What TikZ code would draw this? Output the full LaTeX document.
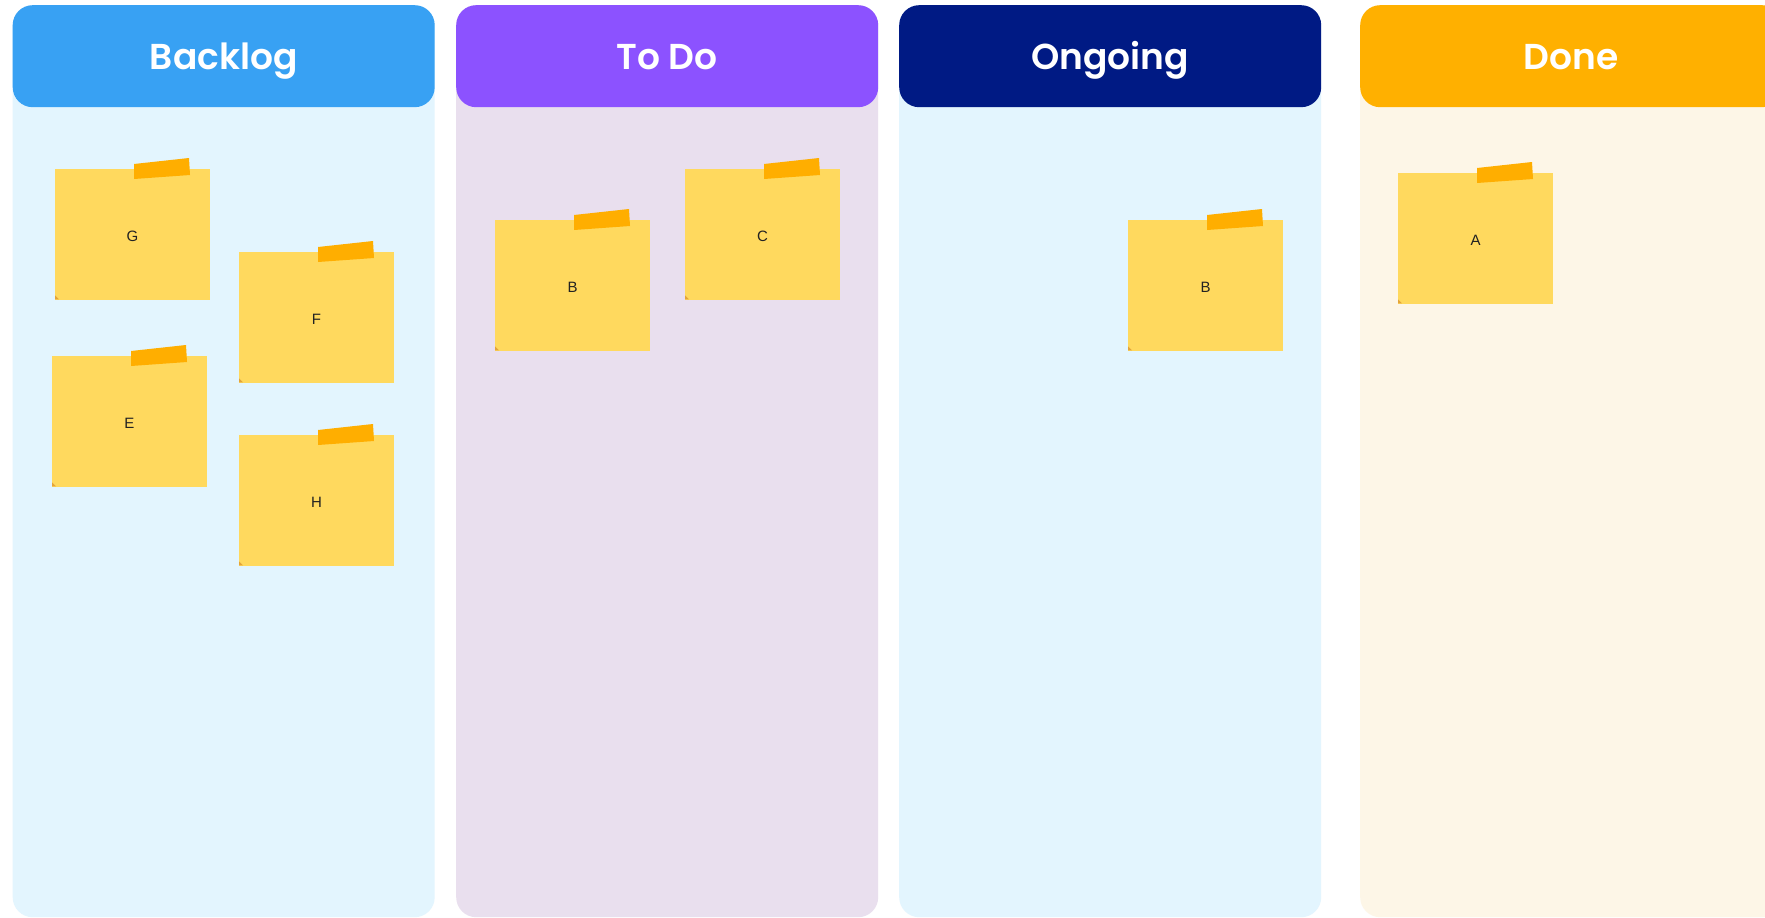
\documentclass[tikz,border=0pt]{standalone}
\usepackage{fontspec}
\setsansfont{Poppins}[BoldFont={Poppins SemiBold}]
\newfontfamily\notefont{Liberation Sans}
\definecolor{hBacklog}{HTML}{38A1F3}
\definecolor{hTodo}{HTML}{8C52FF}
\definecolor{hOngoing}{HTML}{001A84}
\definecolor{hDone}{HTML}{FFB000}
\definecolor{bBlue}{HTML}{E3F5FE}
\definecolor{bLav}{HTML}{E9DFEE}
\definecolor{bCream}{HTML}{FDF6E7}
\definecolor{noteY}{HTML}{FFD95E}
\definecolor{tapeO}{HTML}{FFAE00}
\definecolor{curl}{HTML}{E3A43A}
\definecolor{ink}{HTML}{222222}
\tikzset{
  colbody/.style={rounded corners=20pt, inner sep=0pt, minimum width=422pt, minimum height=912pt, anchor=north west},
  colhead/.style={rounded corners=20pt, inner sep=0pt, minimum width=422pt, minimum height=102pt, anchor=north west},
  headtext/.style={text=white, font=\sffamily\bfseries\fontsize{36}{40}\selectfont, anchor=base, inner sep=0pt},
  note/.style={fill=noteY, minimum width=155pt, minimum height=131pt, inner sep=0pt, anchor=north west, text=ink, font=\notefont\fontsize{15}{18}\selectfont},
  tape/.style={fill=tapeO},
}
\newcommand{\stickynote}[4]{%
  \node[note] (#1) at (#2,#3) {};
  \node[text=ink, font=\notefont\fontsize{15}{18}\selectfont, anchor=base, inner sep=0pt] (#1t) at ([shift={(77.5,72)}]#1.north west) {#4};
  \fill[tape] ([shift={(79,-5)}]#1.north west) -- ([shift={(134,-11)}]#1.north west) -- ([shift={(135,6)}]#1.north west) -- ([shift={(79,10)}]#1.north west) -- cycle;
  \fill[curl] ([shift={(0,-1)}]#1.south west) -- ([shift={(4,-1)}]#1.south west) -- ([shift={(0,-5)}]#1.south west) -- cycle;
}
\begin{document}
\begin{tikzpicture}[x=1pt,y=-1pt]
\useasboundingbox (0,0) rectangle (1765,918);
\clip (0,0) rectangle (1765,918);
\fill[white] (0,0) rectangle (1765,918);
% columns
\node[colbody, fill=bBlue] (backlog) at (12.5,5) {};
\node[colbody, fill=bLav] (todo) at (456,5) {};
\node[colbody, fill=bBlue] (ongoing) at (899,5) {};
\node[colbody, fill=bCream] (done) at (1360,5) {};
\node[colhead, fill=hBacklog] (hbacklog) at (12.5,5) {};
\node[colhead, fill=hTodo] (htodo) at (456,5) {};
\node[colhead, fill=hOngoing] (hongoing) at (899,5) {};
\node[colhead, fill=hDone] (hdone) at (1360,5) {};
\node[headtext] (tbacklog) at ([yshift=-13]hbacklog.center) {Backlog};
\node[headtext] (ttodo) at ([yshift=-13]htodo.center) {To Do};
\node[headtext] (tongoing) at ([yshift=-13]hongoing.center) {Ongoing};
\node[headtext] (tdone) at ([yshift=-13]hdone.center) {Done};
% notes
\stickynote{g}{55}{169}{G}
\stickynote{f}{239}{252}{F}
\stickynote{e}{52}{356}{E}
\stickynote{h}{239}{435}{H}
\stickynote{b1}{495}{220}{B}
\stickynote{c}{685}{169}{C}
\stickynote{b2}{1128}{220}{B}
\stickynote{a}{1398}{173}{A}
\end{tikzpicture}
\end{document}
